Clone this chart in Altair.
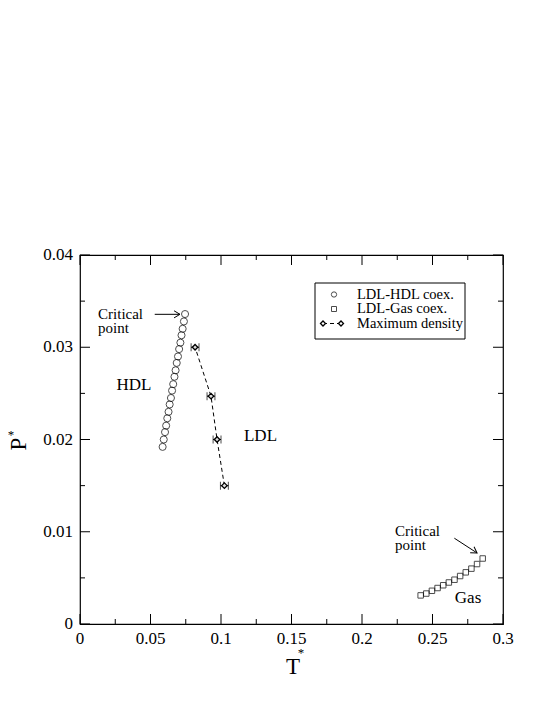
import altair as alt
import pandas as pd

# ---------------- data ----------------
hdl_T = [0.0586, 0.0594, 0.0603, 0.0611, 0.0619, 0.0628, 0.0636, 0.0645, 0.0653, 0.0661,
         0.0670, 0.0678, 0.0686, 0.0695, 0.0703, 0.0712, 0.0720, 0.0728, 0.0737, 0.0745]
hdl_P = [0.0192, 0.0200, 0.0208, 0.0215, 0.0223, 0.0230, 0.0238, 0.0245, 0.0253, 0.0260,
         0.0268, 0.0275, 0.0283, 0.0290, 0.0298, 0.0305, 0.0313, 0.0320, 0.0328, 0.0336]

gas_T = [0.2416, 0.2456, 0.2496, 0.2536, 0.2576, 0.2616, 0.2656, 0.2696, 0.2736, 0.2776, 0.2816, 0.2856]
gas_P = [0.0031, 0.0033, 0.0036, 0.0039, 0.0042, 0.0045, 0.0048, 0.0052, 0.0056, 0.0060, 0.0065, 0.0071]

md_T = [0.0816, 0.0929, 0.0972, 0.1024]
md_P = [0.0300, 0.0247, 0.0200, 0.0150]
md_err = [0.0028, 0.0028, 0.0028, 0.0028]

x_major = [0, 0.05, 0.1, 0.15, 0.2, 0.25, 0.3]
x_labels = ["0", "0.05", "0.1", "0.15", "0.2", "0.25", "0.3"]
x_minor = [0.025, 0.075, 0.125, 0.175, 0.225, 0.275]
y_major = [0, 0.01, 0.02, 0.03, 0.04]
y_labels = ["0", "0.01", "0.02", "0.03", "0.04"]
y_minor = [0.005, 0.015, 0.025, 0.035]

legend_labels = ["LDL-HDL coex.", "LDL-Gas coex.", "Maximum density"]

# annotations (data coordinates)
crit_T = [0.0128, 0.2234]
crit_P = [0.0331, 0.0095]
crit_text = [["Critical", "point"], ["Critical", "point"]]
lbl_T = [0.0383, 0.1280, 0.2752]
lbl_P = [0.0259, 0.0204, 0.0028]
lbl_text = ["HDL", "LDL", "Gas"]
arrow_T0 = [0.0530, 0.2655]
arrow_P0 = [0.03357, 0.00930]
arrow_T1 = [0.0709, 0.2816]
arrow_P1 = [0.03357, 0.00770]
arrow_angle = [0, 33]

# ---------------- chart ----------------
W, H = 423, 369
FONT = "Liberation Serif"
xs = alt.Scale(domain=[0, 0.3], nice=False, zero=False)
ys = alt.Scale(domain=[0, 0.04], nice=False, zero=False)

hdl_df = pd.DataFrame({"T": hdl_T, "P": hdl_P})
gas_df = pd.DataFrame({"T": gas_T, "P": gas_P})
md_df = pd.DataFrame({"T": md_T, "P": md_P, "err": md_err})
md_df["lo"] = md_df["T"] - md_df["err"]
md_df["hi"] = md_df["T"] + md_df["err"]

def X(f):
    return alt.X(f, scale=xs, axis=None)

def Y(f):
    return alt.Y(f, scale=ys, axis=None)

hdl = alt.Chart(hdl_df).mark_point(shape="circle", filled=False, color="black",
                                   strokeWidth=1, size=50).encode(x=X("T:Q"), y=Y("P:Q"))
gas = alt.Chart(gas_df).mark_point(shape="square", filled=False, color="black",
                                   strokeWidth=1, size=30).encode(x=X("T:Q"), y=Y("P:Q"))
md_line = alt.Chart(md_df).mark_line(color="black", strokeWidth=1, strokeDash=[4, 3]).encode(
    x=X("T:Q"), y=Y("P:Q"), order="P:Q")
md_bar = alt.Chart(md_df).mark_rule(color="black", strokeWidth=1).encode(
    x=X("lo:Q"), x2="hi:Q", y=Y("P:Q"))
md_cap_lo = alt.Chart(md_df).mark_tick(color="black", orient="vertical", size=8, thickness=1).encode(
    x=X("lo:Q"), y=Y("P:Q"))
md_cap_hi = alt.Chart(md_df).mark_tick(color="black", orient="vertical", size=8, thickness=1).encode(
    x=X("hi:Q"), y=Y("P:Q"))
md_pts = alt.Chart(md_df).mark_point(shape="diamond", filled=True, fill="#dddddd", stroke="black",
                                     strokeWidth=1.3, size=30, opacity=1).encode(x=X("T:Q"), y=Y("P:Q"))

# inward ticks on all four sides
xmaj = pd.DataFrame({"t": x_major, "lab": x_labels})
xmin = pd.DataFrame({"t": x_minor})
ymaj = pd.DataFrame({"p": y_major, "lab": y_labels})
ymin = pd.DataFrame({"p": y_minor})

def xticks(df, length):
    b = alt.Chart(df).mark_rule(color="black", strokeWidth=1)
    return (b.encode(x=X("t:Q"), y=alt.value(H), y2=alt.value(H - length))
            + b.encode(x=X("t:Q"), y=alt.value(0), y2=alt.value(length)))

def yticks(df, length):
    b = alt.Chart(df).mark_rule(color="black", strokeWidth=1)
    return (b.encode(y=Y("p:Q"), x=alt.value(0), x2=alt.value(length))
            + b.encode(y=Y("p:Q"), x=alt.value(W), x2=alt.value(W - length)))

ticks = xticks(xmaj, 10) + xticks(xmin, 5) + yticks(ymaj, 10) + yticks(ymin, 5)

# tick labels
x_lab = alt.Chart(xmaj).mark_text(font=FONT, fontSize=17, align="center", baseline="top",
                                  color="black").encode(x=X("t:Q"), y=alt.value(H + 7), text="lab:N")
y_lab = alt.Chart(ymaj).mark_text(font=FONT, fontSize=17, align="right", baseline="middle",
                                  color="black").encode(y=Y("p:Q"), x=alt.value(-7), text="lab:N")

# annotations
crit_df = pd.DataFrame({"T": crit_T, "P": crit_P, "txt": crit_text})
crit = alt.Chart(crit_df).mark_text(font=FONT, fontSize=15, align="left", baseline="alphabetic",
                                    lineHeight=14, color="black").encode(
    x=X("T:Q"), y=Y("P:Q"), text="txt")
lbl_df = pd.DataFrame({"T": lbl_T, "P": lbl_P, "txt": lbl_text})
lbl = alt.Chart(lbl_df).mark_text(font=FONT, fontSize=17, align="center", baseline="middle",
                                  color="black").encode(x=X("T:Q"), y=Y("P:Q"), text="txt:N")
arr_df = pd.DataFrame({"T0": arrow_T0, "P0": arrow_P0, "T1": arrow_T1, "P1": arrow_P1, "ang": arrow_angle})
arr_line = alt.Chart(arr_df).mark_rule(color="black", strokeWidth=1).encode(
    x=X("T0:Q"), x2="T1:Q", y=Y("P0:Q"), y2="P1:Q")
arr_head = alt.Chart(arr_df).mark_point(shape="M-1,-0.6L0,0L-1,0.6", filled=False, stroke="black",
                                        strokeWidth=1, size=140, opacity=1).encode(
    x=X("T1:Q"), y=Y("P1:Q"), angle=alt.Angle("ang:Q", scale=None))

# legend box (drawn by hand)
one = pd.DataFrame({"k": [0]})
leg_box = alt.Chart(one).mark_rect(fill="white", stroke="black", strokeWidth=1).encode(
    x=alt.value(235), x2=alt.value(385), y=alt.value(28), y2=alt.value(84))
leg_rows = [39.5, 54, 68.5]
leg_circ = alt.Chart(one).mark_point(shape="circle", filled=False, color="black", size=28,
                                     strokeWidth=1).encode(x=alt.value(254), y=alt.value(leg_rows[0]))
leg_sq = alt.Chart(one).mark_point(shape="square", filled=False, color="black", size=25,
                                   strokeWidth=1).encode(x=alt.value(254), y=alt.value(leg_rows[1]))
leg_dash = alt.Chart(one).mark_rule(color="black", strokeWidth=1, strokeDash=[4, 3]).encode(
    x=alt.value(243), x2=alt.value(260), y=alt.value(leg_rows[2]))
leg_d1 = alt.Chart(one).mark_point(shape="diamond", filled=True, fill="white", stroke="black",
                                   strokeWidth=1.3, size=25, opacity=1).encode(
    x=alt.value(243), y=alt.value(leg_rows[2]))
leg_d2 = alt.Chart(one).mark_point(shape="diamond", filled=True, fill="white", stroke="black",
                                   strokeWidth=1.3, size=25, opacity=1).encode(
    x=alt.value(261), y=alt.value(leg_rows[2]))
leg_txt_df = pd.DataFrame({"label": legend_labels, "row": leg_rows})
leg_txt = alt.Chart(leg_txt_df).mark_text(font=FONT, fontSize=14.5, align="left", baseline="middle",
                                          color="black").encode(
    x=alt.value(277), y=alt.Y("row:Q", scale=None, axis=None), text="label:N")

# axis titles with superscript asterisks
t_title = alt.Chart(one).mark_text(font=FONT, fontSize=23, align="center", baseline="middle",
                                   color="black", text="T").encode(x=alt.value(213), y=alt.value(412))
t_star = alt.Chart(one).mark_text(font=FONT, fontSize=13, align="center", baseline="middle",
                                  color="black", text="*").encode(x=alt.value(221), y=alt.value(398))
p_title = alt.Chart(one).mark_text(font=FONT, fontSize=23, align="center", baseline="middle",
                                   color="black", text="P", angle=270).encode(x=alt.value(-61), y=alt.value(189))
p_star = alt.Chart(one).mark_text(font=FONT, fontSize=13, align="center", baseline="middle",
                                  color="black", text="*").encode(x=alt.value(-69), y=alt.value(180))

chart = alt.layer(
    ticks, x_lab, y_lab, hdl, gas, md_line, md_bar, md_cap_lo, md_cap_hi, md_pts,
    crit, lbl, arr_line, arr_head,
    leg_box, leg_circ, leg_sq, leg_dash, leg_d1, leg_d2, leg_txt,
    t_title, t_star, p_title, p_star,
).properties(
    width=W, height=H,
    autosize="none",
    padding={"left": 72, "top": 247, "right": 30, "bottom": 70},
    background="white",
).configure_view(stroke="black", strokeWidth=1.2)

chart.save("out.html", embed_options={"renderer": "svg", "actions": False})
